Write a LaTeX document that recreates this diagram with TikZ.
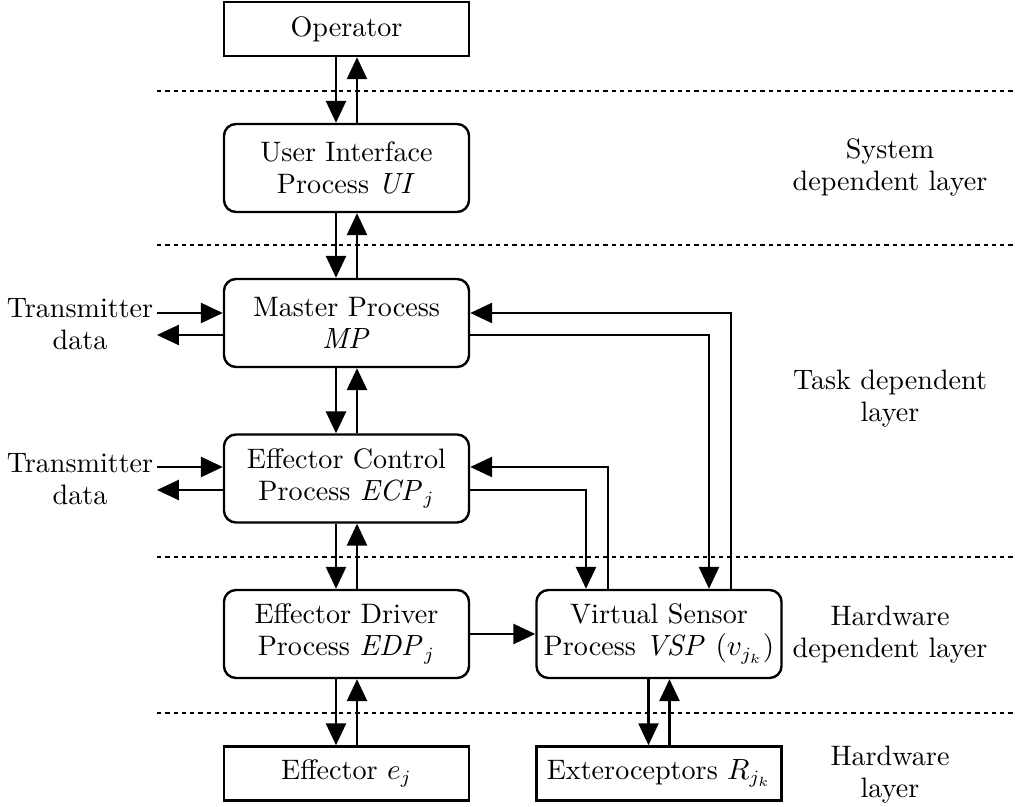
\documentclass[tikz,border=0pt]{standalone}
\usetikzlibrary{arrows.meta,calc}
\begin{document}
\begin{tikzpicture}[x=0.375pt,y=-0.375pt,
  every node/.style={font=\fontsize{10.55}{12}\selectfont},
  rbox/.style={draw,line width=0.9pt,rounded corners=4.5pt,minimum width=91.9pt,minimum height=33pt,inner sep=0pt,align=center},
  sbox/.style={draw,line width=0.9pt,minimum width=91.9pt,minimum height=20.3pt,inner sep=0pt,align=center},
  arr/.style={line width=0.85pt,-{Triangle[length=8.2pt,width=7.5pt]}},
  sep/.style={line width=0.9pt,dash pattern=on 1.6pt off 1.5pt},
  lbl/.style={align=center,inner sep=0pt}]
\useasboundingbox (0,0) rectangle (1016,807);

% layer separators
\draw[sep] (157,91) -- (1016,91);
\draw[sep] (157,245) -- (1016,245);
\draw[sep] (157,557) -- (1016,557);
\draw[sep] (157,713) -- (1016,713);

% boxes
\node[sbox] (op) at (346.5,29) {Operator};
\node[rbox] (ui) at (346.5,168) {User Interface\\Process $\mathit{UI}$};
\node[rbox] (mp) at (346.5,323) {Master Process\\$\mathit{MP}$};
\node[rbox] (ecp) at (346.5,478.5) {Effector Control\\Process $\mathit{ECP}_j$};
\node[rbox] (edp) at (346.5,634) {Effector Driver\\Process $\mathit{EDP}_j$};
\node[rbox] (vsp) at (659,634) {Virtual Sensor\\Process $\mathit{VSP}$ $(v_{j_k})$};
\node[sbox] (eff) at (346.5,773.5) {Effector $e_j$};
\node[sbox] (ext) at (659,773.5) {Exteroceptors $R_{j_k}$};

% side labels
\node[lbl] (tr1) at (80,324) {Transmitter\\data};
\node[lbl] (tr2) at (80,479) {Transmitter\\data};
\node[lbl] (l1) at (890,167) {System\\dependent layer};
\node[lbl] (l2) at (890,399) {Task dependent\\layer};
\node[lbl] (l3) at (890,635) {Hardware\\dependent layer};
\node[lbl] (l4) at (890,775) {Hardware\\layer};

% vertical pairs
\foreach \a/\b in {op/ui,ui/mp,mp/ecp,ecp/edp,edp/eff,vsp/ext}{
  \draw[arr] ($(\a.south)+(-10.5,0)$) -- ($(\b.north)+(-10.5,0)$);
  \draw[arr] ($(\b.north)+(10.5,0)$) -- ($(\a.south)+(10.5,0)$);
}

% transmitter data
\coordinate (t1i) at (157,313);
\coordinate (t1o) at (157,335);
\coordinate (t2i) at (157,467);
\coordinate (t2o) at (157,490);
\draw[arr] (t1i) -- (t1i -| mp.west);
\draw[arr] (t1o -| mp.west) -- (t1o);
\draw[arr] (t2i) -- (t2i -| ecp.west);
\draw[arr] (t2o -| ecp.west) -- (t2o);

% MP <-> VSP
\draw[arr] ($(mp.east)+(0,12)$) -| ($(vsp.north)+(50,0)$);
\draw[arr] ($(vsp.north)+(72,0)$) |- ($(mp.east)+(0,-10)$);
% ECP <-> VSP
\draw[arr] ($(ecp.east)+(0,11.5)$) -| ($(vsp.north)+(-73,0)$);
\draw[arr] ($(vsp.north)+(-51,0)$) |- ($(ecp.east)+(0,-11.5)$);
% EDP -> VSP
\draw[arr] (edp) -- (vsp);
\end{tikzpicture}
\end{document}
